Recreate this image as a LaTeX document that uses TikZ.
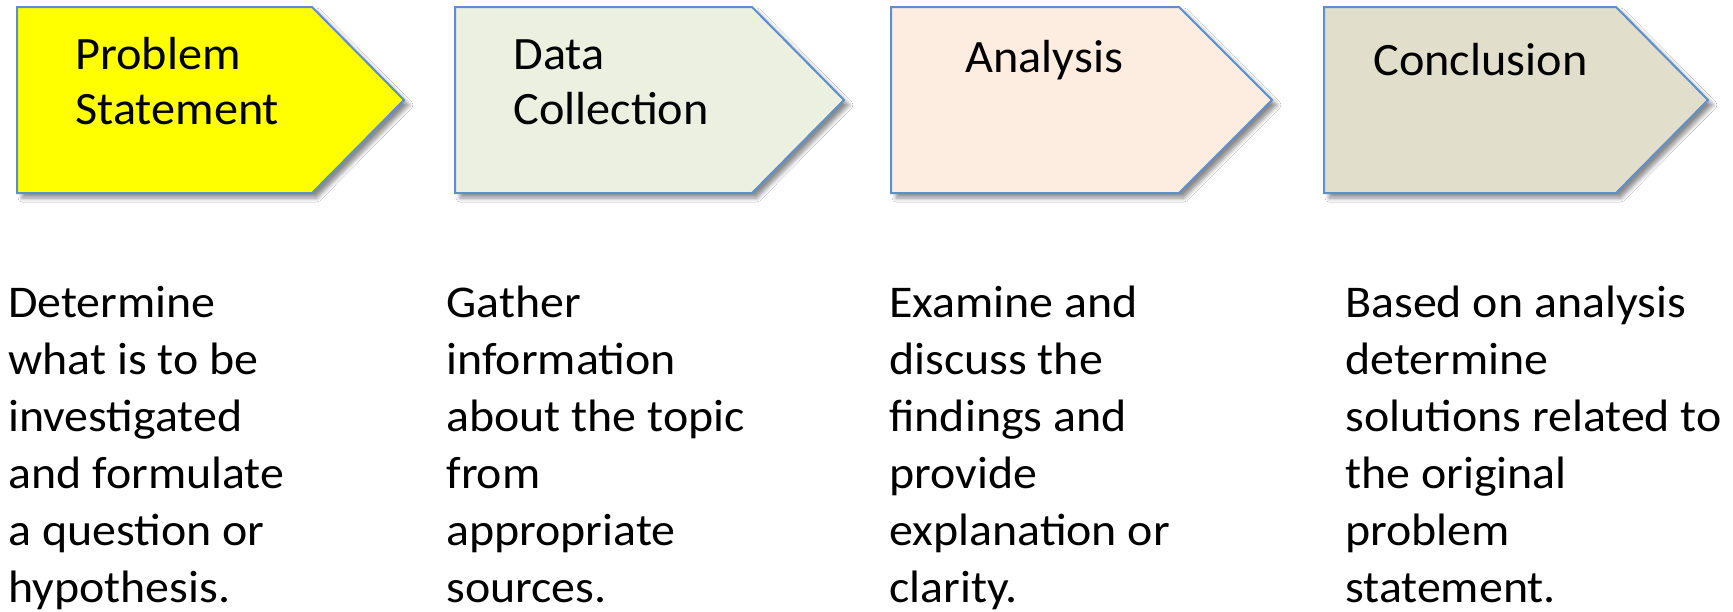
\documentclass[tikz,border=0pt]{standalone}
\usepackage{fontspec}
\setmainfont{Carlito}[FakeStretch=1.04]
\newfontfamily\bodyfont{Carlito}[FakeStretch=1.055]
\usetikzlibrary{shadows.blur}
\definecolor{edgeblue}{HTML}{5E8FCB}
\definecolor{fillA}{HTML}{FFFF00}
\definecolor{fillB}{HTML}{EBF0E1}
\definecolor{fillC}{HTML}{FDEDE1}
\definecolor{fillD}{HTML}{E1DECB}
\tikzset{
  pent/.style={draw=edgeblue, line width=1pt, line join=miter,
    blur shadow={shadow xshift=2.5pt, shadow yshift=-2.5pt, shadow blur steps=6, shadow blur radius=2pt, shadow opacity=45}},
  ttl/.style={anchor=base west, inner sep=0pt, align=left, font=\fontsize{23.2pt}{27.5pt}\selectfont},
  body/.style={anchor=base west, inner sep=0pt, align=left, font=\bodyfont\fontsize{22.7pt}{28.5pt}\selectfont}
}
\begin{document}
\begin{tikzpicture}[x=0.5pt, y=-0.5pt]
\useasboundingbox (0,0) rectangle (1733,611);
\fill[white] (0,0) rectangle (1733,611);
\draw[pent, fill=fillA] (17,7) -- (312,7) -- (404,100) -- (312,193) -- (17,193) -- cycle;
\draw[pent, fill=fillB] (455,7) -- (752,7) -- (844,100) -- (752,193) -- (455,193) -- cycle;
\draw[pent, fill=fillC] (891,7) -- (1179,7) -- (1272,100) -- (1179,193) -- (891,193) -- cycle;
\draw[pent, fill=fillD] (1324,7) -- (1616,7) -- (1708,100) -- (1616,193) -- (1324,193) -- cycle;
% base anchor of a multi-line node = baseline of its last line
\node[ttl] (t1) at (75,124.3) {Problem\\Statement};
\node[ttl] (t2) at (513,124.3) {Data\\Collection};
\node[ttl] (t3) at (965,72) {Analysis};
\node[ttl] (t4) at (1373,75) {Conclusion};
\node[body] (b1) at (8,602.3) {Determine\\what is to be\\investigated\\and formulate\\a question or\\hypothesis.};
\node[body] (b2) at (446,602.3) {Gather\\information\\about the topic\\from\\appropriate\\sources.};
\node[body] (b3) at (889,602.3) {Examine and\\discuss the\\findings and\\provide\\explanation or\\clarity.};
\node[body] (b4) at (1345,602.3) {Based on analysis\\determine\\solutions related to\\the original\\problem\\statement.};
\end{tikzpicture}
\end{document}
